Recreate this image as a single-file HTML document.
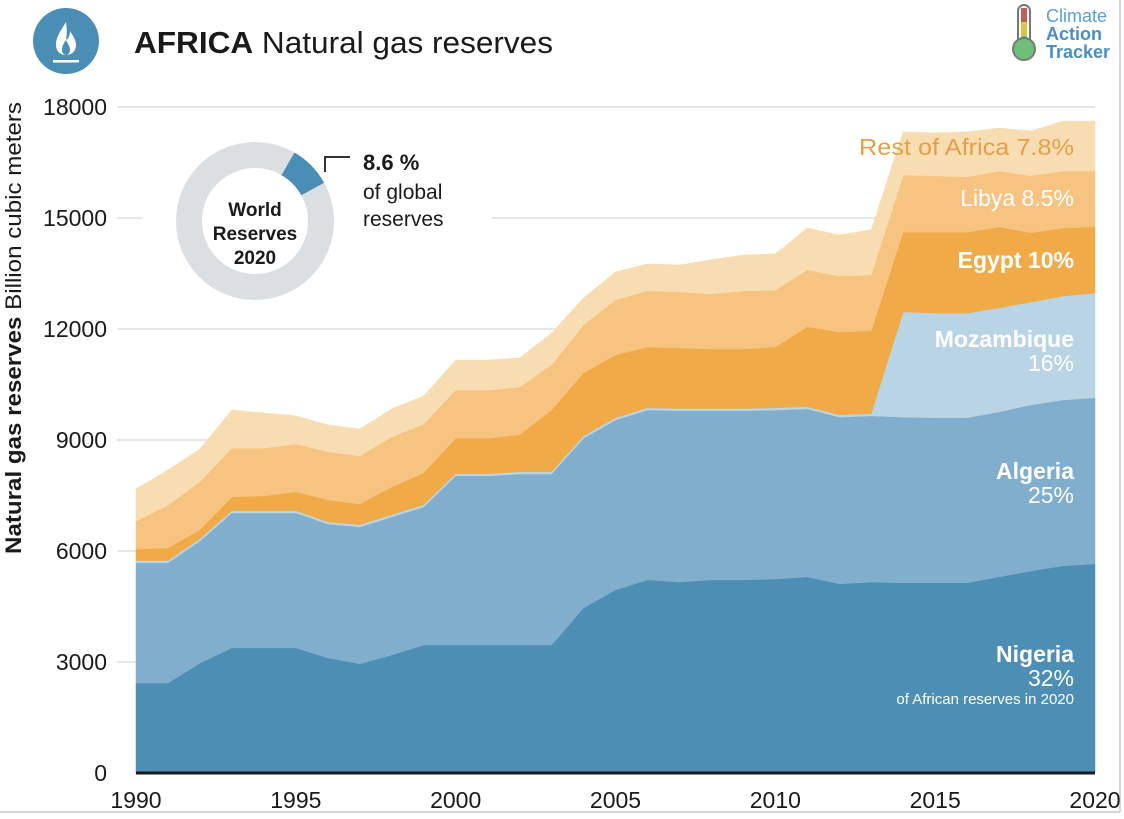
<!DOCTYPE html>
<html><head><meta charset="utf-8">
<style>
html,body{margin:0;padding:0;background:#fff;}
body{width:1124px;height:814px;overflow:hidden;font-family:"Liberation Sans","DejaVu Sans",sans-serif;}
</style></head>
<body>
<svg id="chart" width="1124" height="814" viewBox="0 0 1124 814" xmlns="http://www.w3.org/2000/svg" font-family="Liberation Sans, DejaVu Sans, sans-serif">
  <rect x="0" y="0" width="1124" height="814" fill="#fff"/>
  <line x1="1120" y1="0" x2="1120" y2="812" stroke="#d6d6d6" stroke-width="2"/>
  <line x1="0" y1="812" x2="1120" y2="812" stroke="#d6d6d6" stroke-width="2"/>
  <g>
    <circle cx="66" cy="41" r="33" fill="#4a8db5"/>
    <path d="M66 22 C60 32 56 37 56 45 C56 51 60 55 66 55 C72 55 76 51 76 45 C76 39 72 35 70 31 C70 36 68 39 66 40 C67 34 67 28 66 22 Z" fill="#fff"/>
    <path d="M66 40 C63 44 62 47 62 50 C62 53 64 55 66 55 C68 55 70 53 70 50 C70 47 68 44 66 40 Z" fill="#4a8db5"/>
    <rect x="53" y="60" width="26" height="2.5" fill="#fff"/>
  </g>
  <text x="134" y="53" font-size="31" fill="#1a1a1a" textLength="419" lengthAdjust="spacingAndGlyphs"><tspan font-weight="bold">AFRICA</tspan> Natural gas reserves</text>
  <g>
    <rect x="1018" y="5" width="12" height="44" rx="6" fill="#fff" stroke="#777" stroke-width="2"/>
    <rect x="1021" y="8" width="6" height="14" fill="#c0605a"/>
    <rect x="1021" y="22" width="6" height="14" fill="#d8c64a"/>
    <rect x="1021" y="36" width="6" height="12" fill="#6cc07c"/>
    <circle cx="1024" cy="49" r="11" fill="#6cc07c" stroke="#777" stroke-width="2"/>
    <text x="1046" y="22" font-size="18" fill="#5a9fcf">Climate</text>
    <text x="1046" y="40" font-size="18" font-weight="bold" fill="#4a8fc2">Action</text>
    <text x="1046" y="58" font-size="18" font-weight="bold" fill="#4a8fc2">Tracker</text>
  </g>
  <text transform="translate(21,328) rotate(-90)" text-anchor="middle" font-size="22" fill="#1a1a1a" textLength="452" lengthAdjust="spacingAndGlyphs"><tspan font-weight="bold">Natural gas reserves</tspan> Billion cubic meters</text>
  <g id="grid"></g>
  <g id="areas"></g>
  <g id="axes"></g>
  <g>
    <rect x="142" y="135" width="350" height="170" fill="#fff"/>
    <circle cx="255" cy="221" r="66" fill="none" stroke="#dcdfe2" stroke-width="26"/>
    <path id="donutSeg" fill="#4a8db5"/>
    <text x="255" y="216" text-anchor="middle" font-size="19" font-weight="bold" fill="#1a1a1a">World</text>
    <text x="255" y="240" text-anchor="middle" font-size="19" font-weight="bold" fill="#1a1a1a">Reserves</text>
    <text x="255" y="264" text-anchor="middle" font-size="19" font-weight="bold" fill="#1a1a1a">2020</text>
    <polyline points="325,172 325,157 350,157" fill="none" stroke="#333" stroke-width="2"/>
    <text x="363" y="170" font-size="22" font-weight="bold" fill="#1a1a1a">8.6 %</text>
    <text x="363" y="199" font-size="21" fill="#1a1a1a">of global</text>
    <text x="363" y="226" font-size="21" fill="#1a1a1a">reserves</text>
  </g>
  <g text-anchor="end" font-size="23">
    <text x="1074" y="155" fill="#e3a048" textLength="215" lengthAdjust="spacingAndGlyphs">Rest of Africa 7.8%</text>
    <text x="1074" y="206" fill="#fff">Libya 8.5%</text>
    <text x="1074" y="268" fill="#fff" font-weight="bold">Egypt  10%</text>
    <text x="1074" y="347" fill="#fff" font-weight="bold">Mozambique</text>
    <text x="1074" y="371" fill="#fff">16%</text>
    <text x="1074" y="479" fill="#fff" font-weight="bold">Algeria</text>
    <text x="1074" y="503" fill="#fff">25%</text>
    <text x="1074" y="662" fill="#fff" font-weight="bold">Nigeria</text>
    <text x="1074" y="686" fill="#fff">32%</text>
    <text x="1074" y="704" fill="#fff" font-size="15">of African reserves in 2020</text>
  </g>
</svg>
<script>
const years = [1990,1991,1992,1993,1994,1995,1996,1997,1998,1999,2000,2001,2002,2003,2004,2005,2006,2007,2008,2009,2010,2011,2012,2013,2014,2015,2016,2017,2018,2019,2020];
const nigeria = [2430,2430,2970,3380,3380,3380,3110,2950,3190,3460,3460,3460,3460,3460,4460,4950,5220,5160,5220,5220,5240,5300,5110,5160,5140,5140,5140,5300,5460,5600,5650];
const algeria = [3250,3250,3300,3650,3650,3650,3620,3700,3730,3730,4570,4570,4620,4620,4590,4590,4590,4630,4570,4570,4570,4540,4510,4490,4480,4460,4460,4460,4490,4480,4490];
const mozambique = [60,60,60,60,60,60,60,60,60,60,60,60,60,60,60,60,60,60,60,60,60,60,60,60,2840,2830,2830,2810,2780,2810,2830];
const egypt = [310,340,240,370,400,510,590,560,750,860,960,960,1000,1670,1700,1700,1640,1640,1610,1610,1640,2160,2240,2240,2160,2190,2190,2190,1870,1840,1790];
const libya = [760,1160,1300,1320,1290,1290,1300,1300,1350,1320,1300,1300,1290,1220,1300,1490,1520,1510,1490,1570,1540,1540,1510,1510,1540,1520,1490,1510,1540,1540,1510];
const restOfAfrica = [870,950,890,1030,950,760,730,730,760,760,810,810,790,860,730,750,730,730,920,970,980,1130,1110,1220,1170,1160,1220,1160,1210,1350,1350];
const yTicks = [0,3000,6000,9000,12000,15000,18000];
const xTicks = [1990,1995,2000,2005,2010,2015,2020];
const worldShare = 8.6;

const NS="http://www.w3.org/2000/svg";
const X0=136,X1=1095,Y0=773,Y1=107;
const xs=y=>X0+(y-1990)/(2020-1990)*(X1-X0);
const ys=v=>Y0-v/18000*(Y0-Y1);
function mk(tag,attrs,parent){const e=document.createElementNS(NS,tag);for(const k in attrs)e.setAttribute(k,attrs[k]);parent.appendChild(e);return e;}

const grid=document.getElementById('grid'),axes=document.getElementById('axes'),areas=document.getElementById('areas');
yTicks.forEach(t=>{
  if(t>0){const l=mk('line',{x1:117,x2:X1,y1:ys(t),y2:ys(t),stroke:'#dedede','stroke-width':1.5},grid);
  
  }
  const tx=mk('text',{x:107,y:ys(t)+8,'text-anchor':'end','font-size':23,fill:'#1a1a1a'},axes);
  tx.textContent=t;
  
  
});
xTicks.forEach(t=>{
  const tx=mk('text',{x:xs(t),y:808,'text-anchor':'middle','font-size':23,fill:'#1a1a1a'},axes);
  tx.textContent=t;
  
  
});
const series=[['nigeria',nigeria,'#4d8eb5'],['algeria',algeria,'#82aecd'],['mozambique',mozambique,'#b9d4e5'],['egypt',egypt,'#f0ab48'],['libya',libya,'#f6c381'],['rest-of-africa',restOfAfrica,'#f9ddb2']];
let base=years.map(()=>0);
series.forEach(([name,vals,col])=>{
  const top=base.map((b,i)=>b+vals[i]);
  let d='M'+years.map((y,i)=>xs(y).toFixed(1)+','+ys(top[i]).toFixed(1)).join(' L');
  for(let i=years.length-1;i>=0;i--)d+=' L'+xs(years[i]).toFixed(1)+','+ys(base[i]).toFixed(1);
  const p=mk('path',{d:d+' Z',fill:col,stroke:col,'stroke-width':0.5},areas);
  
  
  base=top;
});
const ax=mk('line',{x1:X0,x2:X1,y1:Y0,y2:Y0,stroke:'#1a1a1a','stroke-width':3},axes);


(function(){
  const cx=255,cy=221,ro=79,ri=53,a0=30*Math.PI/180,a1=a0+worldShare/100*2*Math.PI;
  const pt=(r,a)=>(cx+r*Math.sin(a)).toFixed(1)+','+(cy-r*Math.cos(a)).toFixed(1);
  const s=document.getElementById('donutSeg');
  s.setAttribute('d','M'+pt(ro,a0)+' A'+ro+','+ro+' 0 0 1 '+pt(ro,a1)+' L'+pt(ri,a1)+' A'+ri+','+ri+' 0 0 0 '+pt(ri,a0)+' Z');
  
  
})();
</script>
</body></html>
